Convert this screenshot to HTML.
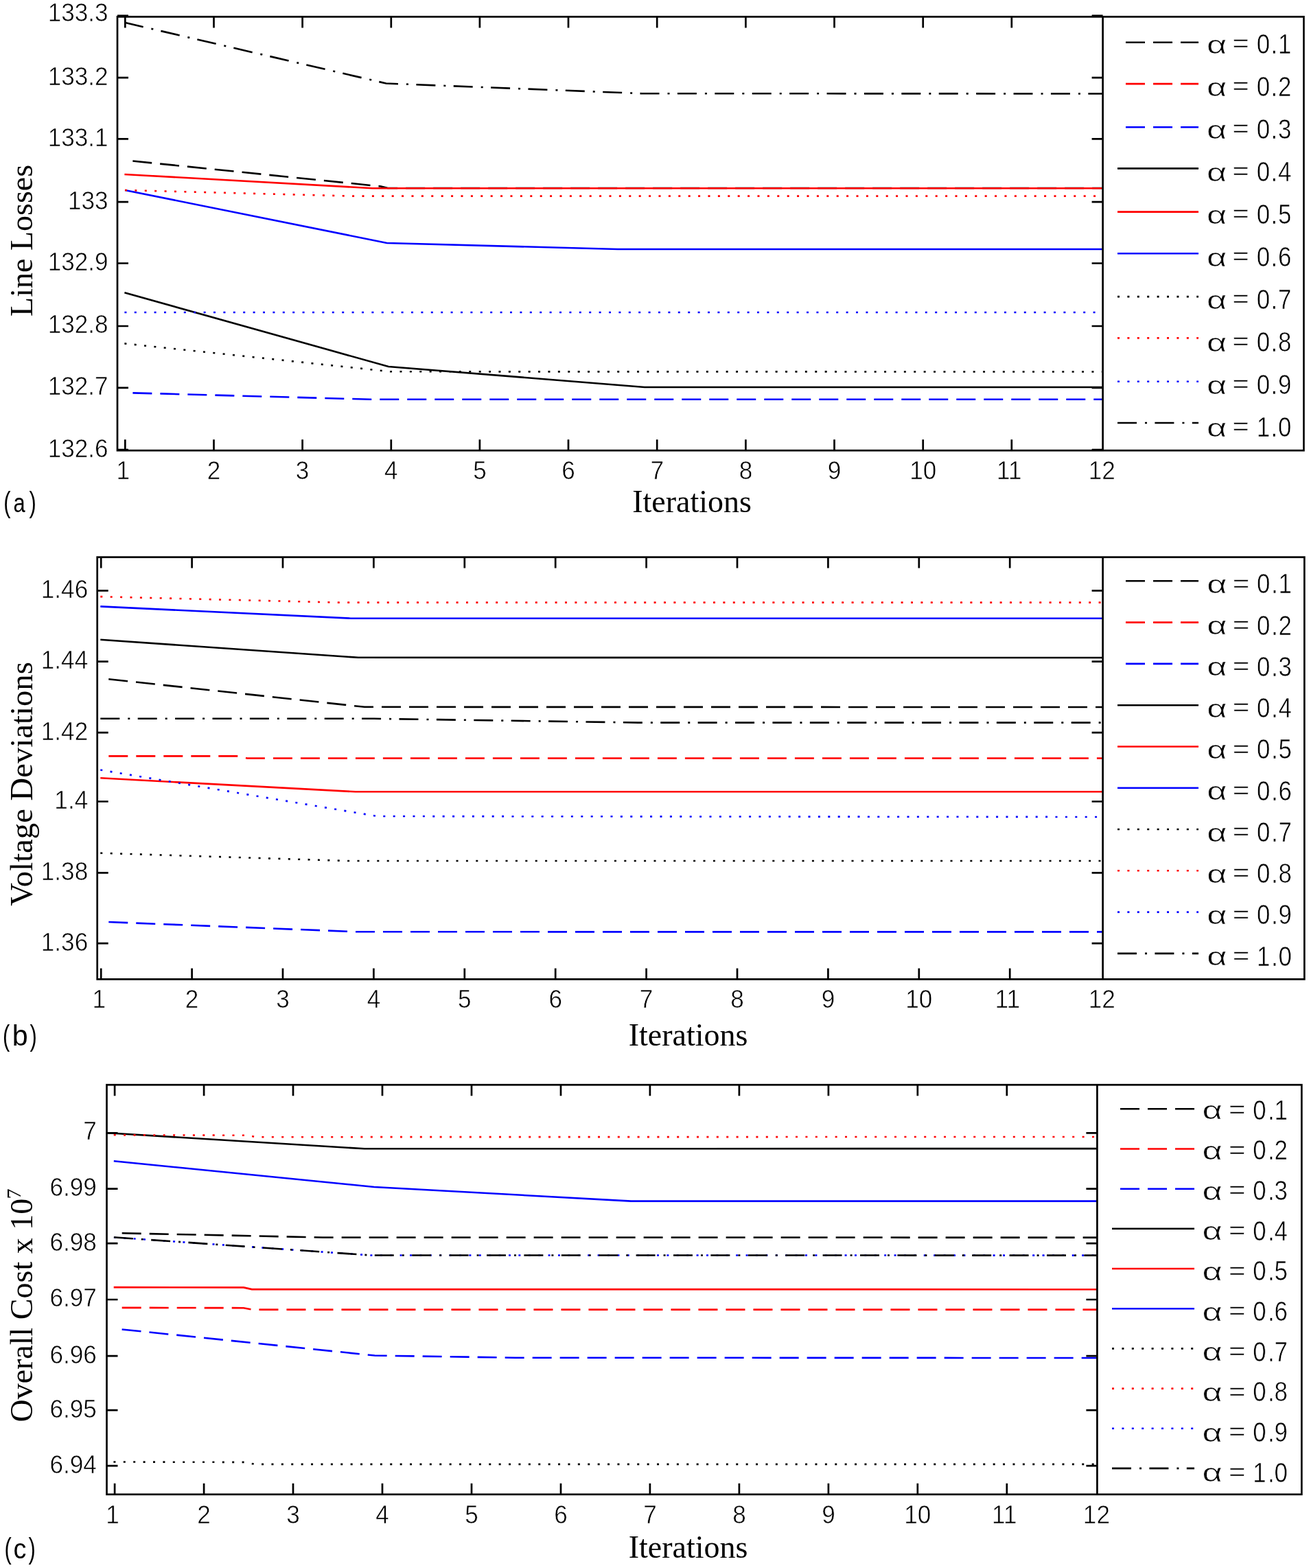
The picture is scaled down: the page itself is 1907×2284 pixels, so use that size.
<!DOCTYPE html>
<html><head><meta charset="utf-8"><title>Convergence plots</title>
<style>html,body{margin:0;padding:0;background:#fff;overflow:hidden;} svg{display:block;}</style>
</head><body>
<svg width="1907" height="2284" viewBox="0 0 1907 2284">
<rect width="1907" height="2284" fill="#fff"/>
<clipPath id="ca"><rect x="171" y="24.4" width="1435.6" height="631.8000000000001"/></clipPath>
<g clip-path="url(#ca)">
<polyline points="181.4,233.3 555.0,271.5 565.0,274.0 1606.0,274.0" fill="none" stroke="#000" stroke-width="2.6" stroke-dasharray="28 12" stroke-dashoffset="28" />
<polyline points="181.4,572.0 540.0,581.8 1606.0,581.8" fill="none" stroke="#00f" stroke-width="2.6" stroke-dasharray="28 12" stroke-dashoffset="28" />
<polyline points="181.4,426.2 566.0,534.0 939.0,564.0 1606.0,564.0" fill="none" stroke="#000" stroke-width="2.6" />
<polyline points="181.4,254.0 542.6,274.2 1606.0,274.2" fill="none" stroke="#f00" stroke-width="2.6" />
<polyline points="182.0,277.0 563.6,354.0 900.0,363.0 1606.0,363.0" fill="none" stroke="#00f" stroke-width="2.6" />
<polyline points="181.4,500.4 569.0,541.3 1606.0,541.5" fill="none" stroke="#000" stroke-width="2.6" stroke-dasharray="3 11.4" />
<polyline points="182.0,277.0 511.0,285.6 1606.0,285.6" fill="none" stroke="#f00" stroke-width="2.6" stroke-dasharray="3 11.4" />
<polyline points="181.4,455.0 1606.0,455.0" fill="none" stroke="#00f" stroke-width="2.6" stroke-dasharray="3 11.4" />
<polyline points="181.4,32.8 562.5,121.5 935.0,136.2 1606.0,136.5" fill="none" stroke="#000" stroke-width="2.6" stroke-dasharray="28 12 3 11.4" />
</g>
<rect x="171" y="24.4" width="1728.4" height="631.8000000000001" fill="none" stroke="#000" stroke-width="2.7"/>
<line x1="1606.6" y1="24.4" x2="1606.6" y2="656.2" stroke="#000" stroke-width="2.7"/>
<path d="M182.3,656.2v-16M182.3,24.4v16M311.5,656.2v-16M311.5,24.4v16M440.6,656.2v-16M440.6,24.4v16M569.8,656.2v-16M569.8,24.4v16M698.9,656.2v-16M698.9,24.4v16M828.0,656.2v-16M828.0,24.4v16M957.2,656.2v-16M957.2,24.4v16M1086.4,656.2v-16M1086.4,24.4v16M1215.5,656.2v-16M1215.5,24.4v16M1344.7,656.2v-16M1344.7,24.4v16M1473.8,656.2v-16M1473.8,24.4v16M171,22.9h16M1606.6,22.9h-16M171,113.2h16M1606.6,113.2h-16M171,202.4h16M1606.6,202.4h-16M171,294.1h16M1606.6,294.1h-16M171,383.5h16M1606.6,383.5h-16M171,475.0h16M1606.6,475.0h-16M171,564.8h16M1606.6,564.8h-16M171,655.1h16M1606.6,655.1h-16" stroke="#000" stroke-width="2.7" fill="none"/>
<g font-family="Liberation Sans, Arial, sans-serif" font-size="37" fill="#000" stroke="#fff" stroke-width="0.6">
<text transform="translate(179.3,697.6) scale(0.95,1)" text-anchor="middle">1</text>
<text transform="translate(311.5,697.6) scale(0.95,1)" text-anchor="middle">2</text>
<text transform="translate(440.6,697.6) scale(0.95,1)" text-anchor="middle">3</text>
<text transform="translate(569.8,697.6) scale(0.95,1)" text-anchor="middle">4</text>
<text transform="translate(698.9,697.6) scale(0.95,1)" text-anchor="middle">5</text>
<text transform="translate(828.0,697.6) scale(0.95,1)" text-anchor="middle">6</text>
<text transform="translate(957.2,697.6) scale(0.95,1)" text-anchor="middle">7</text>
<text transform="translate(1086.4,697.6) scale(0.95,1)" text-anchor="middle">8</text>
<text transform="translate(1215.5,697.6) scale(0.95,1)" text-anchor="middle">9</text>
<text transform="translate(1344.7,697.6) scale(0.95,1)" text-anchor="middle">10</text>
<text transform="translate(1470.3,697.6) scale(0.95,1)" text-anchor="middle">11</text>
<text transform="translate(1605.3,697.6) scale(0.95,1)" text-anchor="middle">12</text>
<text transform="translate(157.6,31.2) scale(0.95,1)" text-anchor="end">133.3</text>
<text transform="translate(157.6,123.6) scale(0.95,1)" text-anchor="end">133.2</text>
<text transform="translate(157.6,212.8) scale(0.95,1)" text-anchor="end">133.1</text>
<text transform="translate(157.6,304.5) scale(0.95,1)" text-anchor="end">133</text>
<text transform="translate(157.6,393.9) scale(0.95,1)" text-anchor="end">132.9</text>
<text transform="translate(157.6,485.4) scale(0.95,1)" text-anchor="end">132.8</text>
<text transform="translate(157.6,575.2) scale(0.95,1)" text-anchor="end">132.7</text>
<text transform="translate(157.6,665.5) scale(0.95,1)" text-anchor="end">132.6</text>
</g>
<g font-family="Liberation Sans, Arial, sans-serif" fill="#000" stroke="#fff" stroke-width="0.6">
<text font-size="37" transform="translate(1757.9,77.5) scale(1.37,1)">α</text>
<text font-size="36" transform="translate(1795.2,75.2) scale(1.17,1)">=</text>
<text font-size="40.4" transform="translate(1830.8,77.9) scale(0.86,1)">0</text>
<text font-size="40.4" transform="translate(1851.6,77.9) scale(0.86,1)">.</text>
<text font-size="40.4" transform="translate(1862.0,77.9) scale(0.86,1)">1</text>
<text font-size="37" transform="translate(1757.9,139.5) scale(1.37,1)">α</text>
<text font-size="36" transform="translate(1795.2,137.2) scale(1.17,1)">=</text>
<text font-size="40.4" transform="translate(1830.8,139.9) scale(0.86,1)">0</text>
<text font-size="40.4" transform="translate(1851.6,139.9) scale(0.86,1)">.</text>
<text font-size="40.4" transform="translate(1862.0,139.9) scale(0.86,1)">2</text>
<text font-size="37" transform="translate(1757.9,201.5) scale(1.37,1)">α</text>
<text font-size="36" transform="translate(1795.2,199.2) scale(1.17,1)">=</text>
<text font-size="40.4" transform="translate(1830.8,201.9) scale(0.86,1)">0</text>
<text font-size="40.4" transform="translate(1851.6,201.9) scale(0.86,1)">.</text>
<text font-size="40.4" transform="translate(1862.0,201.9) scale(0.86,1)">3</text>
<text font-size="37" transform="translate(1757.9,263.6) scale(1.37,1)">α</text>
<text font-size="36" transform="translate(1795.2,261.3) scale(1.17,1)">=</text>
<text font-size="40.4" transform="translate(1830.8,264.0) scale(0.86,1)">0</text>
<text font-size="40.4" transform="translate(1851.6,264.0) scale(0.86,1)">.</text>
<text font-size="40.4" transform="translate(1862.0,264.0) scale(0.86,1)">4</text>
<text font-size="37" transform="translate(1757.9,325.6) scale(1.37,1)">α</text>
<text font-size="36" transform="translate(1795.2,323.3) scale(1.17,1)">=</text>
<text font-size="40.4" transform="translate(1830.8,326.0) scale(0.86,1)">0</text>
<text font-size="40.4" transform="translate(1851.6,326.0) scale(0.86,1)">.</text>
<text font-size="40.4" transform="translate(1862.0,326.0) scale(0.86,1)">5</text>
<text font-size="37" transform="translate(1757.9,387.6) scale(1.37,1)">α</text>
<text font-size="36" transform="translate(1795.2,385.3) scale(1.17,1)">=</text>
<text font-size="40.4" transform="translate(1830.8,388.0) scale(0.86,1)">0</text>
<text font-size="40.4" transform="translate(1851.6,388.0) scale(0.86,1)">.</text>
<text font-size="40.4" transform="translate(1862.0,388.0) scale(0.86,1)">6</text>
<text font-size="37" transform="translate(1757.9,449.6) scale(1.37,1)">α</text>
<text font-size="36" transform="translate(1795.2,447.3) scale(1.17,1)">=</text>
<text font-size="40.4" transform="translate(1830.8,450.0) scale(0.86,1)">0</text>
<text font-size="40.4" transform="translate(1851.6,450.0) scale(0.86,1)">.</text>
<text font-size="40.4" transform="translate(1862.0,450.0) scale(0.86,1)">7</text>
<text font-size="37" transform="translate(1757.9,511.6) scale(1.37,1)">α</text>
<text font-size="36" transform="translate(1795.2,509.3) scale(1.17,1)">=</text>
<text font-size="40.4" transform="translate(1830.8,512.0) scale(0.86,1)">0</text>
<text font-size="40.4" transform="translate(1851.6,512.0) scale(0.86,1)">.</text>
<text font-size="40.4" transform="translate(1862.0,512.0) scale(0.86,1)">8</text>
<text font-size="37" transform="translate(1757.9,573.7) scale(1.37,1)">α</text>
<text font-size="36" transform="translate(1795.2,571.4) scale(1.17,1)">=</text>
<text font-size="40.4" transform="translate(1830.8,574.1) scale(0.86,1)">0</text>
<text font-size="40.4" transform="translate(1851.6,574.1) scale(0.86,1)">.</text>
<text font-size="40.4" transform="translate(1862.0,574.1) scale(0.86,1)">9</text>
<text font-size="37" transform="translate(1757.9,635.7) scale(1.37,1)">α</text>
<text font-size="36" transform="translate(1795.2,633.4) scale(1.17,1)">=</text>
<text font-size="40.4" transform="translate(1830.8,636.1) scale(0.86,1)">1</text>
<text font-size="40.4" transform="translate(1851.6,636.1) scale(0.86,1)">.</text>
<text font-size="40.4" transform="translate(1862.0,636.1) scale(0.86,1)">0</text>
</g>
<polyline points="1628.0,61.7 1746.0,61.7" fill="none" stroke="#000" stroke-width="2.6" stroke-dasharray="28 12" stroke-dashoffset="28" />
<polyline points="1628.0,122.1 1746.0,122.1" fill="none" stroke="#f00" stroke-width="2.6" stroke-dasharray="28 12" stroke-dashoffset="28" />
<polyline points="1628.0,185.2 1746.0,185.2" fill="none" stroke="#00f" stroke-width="2.6" stroke-dasharray="28 12" stroke-dashoffset="28" />
<polyline points="1628.0,245.4 1746.0,245.4" fill="none" stroke="#000" stroke-width="2.6" />
<polyline points="1628.0,308.6 1746.0,308.6" fill="none" stroke="#f00" stroke-width="2.6" />
<polyline points="1628.0,369.2 1746.0,369.2" fill="none" stroke="#00f" stroke-width="2.6" />
<polyline points="1628.0,432.1 1746.0,432.1" fill="none" stroke="#000" stroke-width="2.6" stroke-dasharray="3 11.4" />
<polyline points="1628.0,492.4 1746.0,492.4" fill="none" stroke="#f00" stroke-width="2.6" stroke-dasharray="3 11.4" />
<polyline points="1628.0,555.7 1746.0,555.7" fill="none" stroke="#00f" stroke-width="2.6" stroke-dasharray="3 11.4" />
<polyline points="1628.0,616.0 1746.0,616.0" fill="none" stroke="#000" stroke-width="2.6" stroke-dasharray="28 12 3 11.4" />
<text x="1008.0" y="746.3" font-family="Liberation Serif, Times New Roman, serif" font-size="46" text-anchor="middle">Iterations</text>
<text transform="translate(46.9,350.4) rotate(-90)" font-family="Liberation Serif, Times New Roman, serif" font-size="46" text-anchor="middle">Line Losses</text>
<g font-family="Liberation Sans, Arial, sans-serif" fill="#000">
<text font-size="42.8" transform="translate(5.29,746.3) scale(0.72,1)">(</text>
<text font-size="39.6" transform="translate(19.50,746.3) scale(0.78,1)">a</text>
<text font-size="42.8" transform="translate(42.52,746.3) scale(0.72,1)">)</text>
</g>
<clipPath id="cb"><rect x="141.7" y="811.6" width="1464.8999999999999" height="614.8000000000001"/></clipPath>
<g clip-path="url(#cb)">
<polyline points="146.3,987.9 531.0,1029.8 1606.0,1030.0" fill="none" stroke="#000" stroke-width="2.6" stroke-dasharray="28 12" stroke-dashoffset="28" />
<polyline points="146.3,1101.4 348.0,1101.4 360.0,1104.5 1606.0,1104.5" fill="none" stroke="#f00" stroke-width="2.6" stroke-dasharray="28 12" stroke-dashoffset="28" />
<polyline points="146.3,1342.6 521.0,1357.3 1606.0,1357.4" fill="none" stroke="#00f" stroke-width="2.6" stroke-dasharray="28 12" stroke-dashoffset="28" />
<polyline points="146.3,931.8 522.0,957.8 1606.0,958.0" fill="none" stroke="#000" stroke-width="2.6" />
<polyline points="146.3,1133.3 518.0,1153.3 1606.0,1153.3" fill="none" stroke="#f00" stroke-width="2.6" />
<polyline points="146.3,883.4 511.0,900.7 1606.0,900.8" fill="none" stroke="#00f" stroke-width="2.6" />
<polyline points="146.3,1242.6 506.5,1254.0 1606.0,1254.0" fill="none" stroke="#000" stroke-width="2.6" stroke-dasharray="3 11.4" />
<polyline points="146.3,869.1 491.0,877.6 1606.0,877.6" fill="none" stroke="#f00" stroke-width="2.6" stroke-dasharray="3 11.4" />
<polyline points="146.3,1121.5 550.0,1189.0 1606.0,1190.0" fill="none" stroke="#00f" stroke-width="2.6" stroke-dasharray="3 11.4" />
<polyline points="146.3,1046.8 545.0,1046.8 930.0,1052.6 1606.0,1052.6" fill="none" stroke="#000" stroke-width="2.6" stroke-dasharray="28 12 3 11.4" />
</g>
<rect x="141.7" y="811.6" width="1758.6" height="614.8000000000001" fill="none" stroke="#000" stroke-width="2.7"/>
<line x1="1606.6" y1="811.6" x2="1606.6" y2="1426.4" stroke="#000" stroke-width="2.7"/>
<path d="M147.2,1426.4v-16M147.2,811.6v16M279.6,1426.4v-16M279.6,811.6v16M412.0,1426.4v-16M412.0,811.6v16M544.4,1426.4v-16M544.4,811.6v16M676.8,1426.4v-16M676.8,811.6v16M809.2,1426.4v-16M809.2,811.6v16M941.6,1426.4v-16M941.6,811.6v16M1074.0,1426.4v-16M1074.0,811.6v16M1206.4,1426.4v-16M1206.4,811.6v16M1338.8,1426.4v-16M1338.8,811.6v16M1471.2,1426.4v-16M1471.2,811.6v16M141.7,860.3h16M1606.6,860.3h-16M141.7,963.7h16M1606.6,963.7h-16M141.7,1067.2h16M1606.6,1067.2h-16M141.7,1167.5h16M1606.6,1167.5h-16M141.7,1271.3h16M1606.6,1271.3h-16M141.7,1374.2h16M1606.6,1374.2h-16" stroke="#000" stroke-width="2.7" fill="none"/>
<g font-family="Liberation Sans, Arial, sans-serif" font-size="37" fill="#000" stroke="#fff" stroke-width="0.6">
<text transform="translate(144.2,1467.7) scale(0.95,1)" text-anchor="middle">1</text>
<text transform="translate(279.6,1467.7) scale(0.95,1)" text-anchor="middle">2</text>
<text transform="translate(412.0,1467.7) scale(0.95,1)" text-anchor="middle">3</text>
<text transform="translate(544.4,1467.7) scale(0.95,1)" text-anchor="middle">4</text>
<text transform="translate(676.8,1467.7) scale(0.95,1)" text-anchor="middle">5</text>
<text transform="translate(809.2,1467.7) scale(0.95,1)" text-anchor="middle">6</text>
<text transform="translate(941.6,1467.7) scale(0.95,1)" text-anchor="middle">7</text>
<text transform="translate(1074.0,1467.7) scale(0.95,1)" text-anchor="middle">8</text>
<text transform="translate(1206.4,1467.7) scale(0.95,1)" text-anchor="middle">9</text>
<text transform="translate(1338.8,1467.7) scale(0.95,1)" text-anchor="middle">10</text>
<text transform="translate(1467.7,1467.7) scale(0.95,1)" text-anchor="middle">11</text>
<text transform="translate(1605.3,1467.7) scale(0.95,1)" text-anchor="middle">12</text>
<text transform="translate(128.2,870.7) scale(0.95,1)" text-anchor="end">1.46</text>
<text transform="translate(128.2,974.1) scale(0.95,1)" text-anchor="end">1.44</text>
<text transform="translate(128.2,1077.6) scale(0.95,1)" text-anchor="end">1.42</text>
<text transform="translate(128.2,1177.9) scale(0.95,1)" text-anchor="end">1.4</text>
<text transform="translate(128.2,1281.7) scale(0.95,1)" text-anchor="end">1.38</text>
<text transform="translate(128.2,1384.6) scale(0.95,1)" text-anchor="end">1.36</text>
</g>
<g font-family="Liberation Sans, Arial, sans-serif" fill="#000" stroke="#fff" stroke-width="0.6">
<text font-size="37" transform="translate(1758.3,863.9) scale(1.37,1)">α</text>
<text font-size="36" transform="translate(1795.7,861.6) scale(1.17,1)">=</text>
<text font-size="40.4" transform="translate(1831.1,864.3) scale(0.86,1)">0</text>
<text font-size="40.4" transform="translate(1852.1,864.3) scale(0.86,1)">.</text>
<text font-size="40.4" transform="translate(1862.6,864.3) scale(0.86,1)">1</text>
<text font-size="37" transform="translate(1758.3,924.2) scale(1.37,1)">α</text>
<text font-size="36" transform="translate(1795.7,921.9) scale(1.17,1)">=</text>
<text font-size="40.4" transform="translate(1831.1,924.6) scale(0.86,1)">0</text>
<text font-size="40.4" transform="translate(1852.1,924.6) scale(0.86,1)">.</text>
<text font-size="40.4" transform="translate(1862.6,924.6) scale(0.86,1)">2</text>
<text font-size="37" transform="translate(1758.3,984.4) scale(1.37,1)">α</text>
<text font-size="36" transform="translate(1795.7,982.1) scale(1.17,1)">=</text>
<text font-size="40.4" transform="translate(1831.1,984.8) scale(0.86,1)">0</text>
<text font-size="40.4" transform="translate(1852.1,984.8) scale(0.86,1)">.</text>
<text font-size="40.4" transform="translate(1862.6,984.8) scale(0.86,1)">3</text>
<text font-size="37" transform="translate(1758.3,1044.7) scale(1.37,1)">α</text>
<text font-size="36" transform="translate(1795.7,1042.4) scale(1.17,1)">=</text>
<text font-size="40.4" transform="translate(1831.1,1045.1) scale(0.86,1)">0</text>
<text font-size="40.4" transform="translate(1852.1,1045.1) scale(0.86,1)">.</text>
<text font-size="40.4" transform="translate(1862.6,1045.1) scale(0.86,1)">4</text>
<text font-size="37" transform="translate(1758.3,1104.9) scale(1.37,1)">α</text>
<text font-size="36" transform="translate(1795.7,1102.6) scale(1.17,1)">=</text>
<text font-size="40.4" transform="translate(1831.1,1105.3) scale(0.86,1)">0</text>
<text font-size="40.4" transform="translate(1852.1,1105.3) scale(0.86,1)">.</text>
<text font-size="40.4" transform="translate(1862.6,1105.3) scale(0.86,1)">5</text>
<text font-size="37" transform="translate(1758.3,1165.2) scale(1.37,1)">α</text>
<text font-size="36" transform="translate(1795.7,1162.9) scale(1.17,1)">=</text>
<text font-size="40.4" transform="translate(1831.1,1165.6) scale(0.86,1)">0</text>
<text font-size="40.4" transform="translate(1852.1,1165.6) scale(0.86,1)">.</text>
<text font-size="40.4" transform="translate(1862.6,1165.6) scale(0.86,1)">6</text>
<text font-size="37" transform="translate(1758.3,1225.5) scale(1.37,1)">α</text>
<text font-size="36" transform="translate(1795.7,1223.2) scale(1.17,1)">=</text>
<text font-size="40.4" transform="translate(1831.1,1225.9) scale(0.86,1)">0</text>
<text font-size="40.4" transform="translate(1852.1,1225.9) scale(0.86,1)">.</text>
<text font-size="40.4" transform="translate(1862.6,1225.9) scale(0.86,1)">7</text>
<text font-size="37" transform="translate(1758.3,1285.7) scale(1.37,1)">α</text>
<text font-size="36" transform="translate(1795.7,1283.4) scale(1.17,1)">=</text>
<text font-size="40.4" transform="translate(1831.1,1286.1) scale(0.86,1)">0</text>
<text font-size="40.4" transform="translate(1852.1,1286.1) scale(0.86,1)">.</text>
<text font-size="40.4" transform="translate(1862.6,1286.1) scale(0.86,1)">8</text>
<text font-size="37" transform="translate(1758.3,1346.0) scale(1.37,1)">α</text>
<text font-size="36" transform="translate(1795.7,1343.7) scale(1.17,1)">=</text>
<text font-size="40.4" transform="translate(1831.1,1346.4) scale(0.86,1)">0</text>
<text font-size="40.4" transform="translate(1852.1,1346.4) scale(0.86,1)">.</text>
<text font-size="40.4" transform="translate(1862.6,1346.4) scale(0.86,1)">9</text>
<text font-size="37" transform="translate(1758.3,1406.2) scale(1.37,1)">α</text>
<text font-size="36" transform="translate(1795.7,1403.9) scale(1.17,1)">=</text>
<text font-size="40.4" transform="translate(1831.1,1406.6) scale(0.86,1)">1</text>
<text font-size="40.4" transform="translate(1852.1,1406.6) scale(0.86,1)">.</text>
<text font-size="40.4" transform="translate(1862.6,1406.6) scale(0.86,1)">0</text>
</g>
<polyline points="1628.0,846.3 1746.0,846.3" fill="none" stroke="#000" stroke-width="2.6" stroke-dasharray="28 12" stroke-dashoffset="28" />
<polyline points="1628.0,906.6 1746.0,906.6" fill="none" stroke="#f00" stroke-width="2.6" stroke-dasharray="28 12" stroke-dashoffset="28" />
<polyline points="1628.0,966.9 1746.0,966.9" fill="none" stroke="#00f" stroke-width="2.6" stroke-dasharray="28 12" stroke-dashoffset="28" />
<polyline points="1628.0,1027.2 1746.0,1027.2" fill="none" stroke="#000" stroke-width="2.6" />
<polyline points="1628.0,1087.5 1746.0,1087.5" fill="none" stroke="#f00" stroke-width="2.6" />
<polyline points="1628.0,1147.8 1746.0,1147.8" fill="none" stroke="#00f" stroke-width="2.6" />
<polyline points="1628.0,1208.0 1746.0,1208.0" fill="none" stroke="#000" stroke-width="2.6" stroke-dasharray="3 11.4" />
<polyline points="1628.0,1268.3 1746.0,1268.3" fill="none" stroke="#f00" stroke-width="2.6" stroke-dasharray="3 11.4" />
<polyline points="1628.0,1328.6 1746.0,1328.6" fill="none" stroke="#00f" stroke-width="2.6" stroke-dasharray="3 11.4" />
<polyline points="1628.0,1388.9 1746.0,1388.9" fill="none" stroke="#000" stroke-width="2.6" stroke-dasharray="28 12 3 11.4" />
<text x="1002.6" y="1522.9" font-family="Liberation Serif, Times New Roman, serif" font-size="46" text-anchor="middle">Iterations</text>
<text transform="translate(46.9,1142.0) rotate(-90)" font-family="Liberation Serif, Times New Roman, serif" font-size="46.7" text-anchor="middle">Voltage Deviations</text>
<g font-family="Liberation Sans, Arial, sans-serif" fill="#000">
<text font-size="42.8" transform="translate(4.09,1523.4) scale(0.72,1)">(</text>
<text font-size="42.9" transform="translate(17.72,1523.4) scale(0.96,1)">b</text>
<text font-size="42.8" transform="translate(43.52,1523.4) scale(0.72,1)">)</text>
</g>
<clipPath id="cc"><rect x="155.5" y="1580.2" width="1442.9" height="596.6000000000001"/></clipPath>
<g clip-path="url(#cc)">
<polyline points="165.7,1796.0 470.0,1802.5 1598.0,1802.6" fill="none" stroke="#000" stroke-width="2.6" stroke-dasharray="28 12" stroke-dashoffset="28" />
<polyline points="165.7,1904.8 355.0,1905.2 367.0,1907.6 1598.0,1907.6" fill="none" stroke="#f00" stroke-width="2.6" stroke-dasharray="28 12" stroke-dashoffset="28" />
<polyline points="165.7,1935.2 546.0,1974.5 751.0,1977.7 1598.0,1978.0" fill="none" stroke="#00f" stroke-width="2.6" stroke-dasharray="28 12" stroke-dashoffset="28" />
<polyline points="156.8,1650.3 531.0,1673.3 1598.0,1673.1" fill="none" stroke="#000" stroke-width="2.6" />
<polyline points="165.7,1875.1 355.0,1875.4 367.0,1878.1 1598.0,1878.2" fill="none" stroke="#f00" stroke-width="2.6" />
<polyline points="165.8,1691.2 545.0,1729.0 919.5,1749.6 1598.0,1749.6" fill="none" stroke="#00f" stroke-width="2.6" />
<polyline points="165.4,2129.5 358.0,2129.9 371.0,2132.9 1598.0,2132.9" fill="none" stroke="#000" stroke-width="2.6" stroke-dasharray="3 11.4" />
<polyline points="165.7,1653.3 362.0,1653.8 372.0,1656.2 1598.0,1656.0" fill="none" stroke="#f00" stroke-width="2.6" stroke-dasharray="3 11.4" />
<polyline points="165.9,1802.3 540.0,1828.5 1598.0,1828.6" fill="none" stroke="#00f" stroke-width="2.6" stroke-dasharray="3 11.4" />
<polyline points="165.9,1802.3 540.0,1828.5 1598.0,1828.6" fill="none" stroke="#000" stroke-width="2.6" stroke-dasharray="28 12 3 11.4" />
</g>
<rect x="155.5" y="1580.2" width="1740.8" height="596.6000000000001" fill="none" stroke="#000" stroke-width="2.7"/>
<line x1="1598.4" y1="1580.2" x2="1598.4" y2="2176.8" stroke="#000" stroke-width="2.7"/>
<path d="M167.1,2176.8v-16M167.1,1580.2v16M297.1,2176.8v-16M297.1,1580.2v16M427.0,2176.8v-16M427.0,1580.2v16M557.0,2176.8v-16M557.0,1580.2v16M687.0,2176.8v-16M687.0,1580.2v16M817.0,2176.8v-16M817.0,1580.2v16M946.9,2176.8v-16M946.9,1580.2v16M1076.9,2176.8v-16M1076.9,1580.2v16M1206.9,2176.8v-16M1206.9,1580.2v16M1336.8,2176.8v-16M1336.8,1580.2v16M1466.8,2176.8v-16M1466.8,1580.2v16M155.5,1650.4h16M1598.4,1650.4h-16M155.5,1731.7h16M1598.4,1731.7h-16M155.5,1811.2h16M1598.4,1811.2h-16M155.5,1893.0h16M1598.4,1893.0h-16M155.5,1975.2h16M1598.4,1975.2h-16M155.5,2054.2h16M1598.4,2054.2h-16M155.5,2135.2h16M1598.4,2135.2h-16" stroke="#000" stroke-width="2.7" fill="none"/>
<g font-family="Liberation Sans, Arial, sans-serif" font-size="37" fill="#000" stroke="#fff" stroke-width="0.6">
<text transform="translate(164.1,2219.3) scale(0.95,1)" text-anchor="middle">1</text>
<text transform="translate(297.1,2219.3) scale(0.95,1)" text-anchor="middle">2</text>
<text transform="translate(427.0,2219.3) scale(0.95,1)" text-anchor="middle">3</text>
<text transform="translate(557.0,2219.3) scale(0.95,1)" text-anchor="middle">4</text>
<text transform="translate(687.0,2219.3) scale(0.95,1)" text-anchor="middle">5</text>
<text transform="translate(817.0,2219.3) scale(0.95,1)" text-anchor="middle">6</text>
<text transform="translate(946.9,2219.3) scale(0.95,1)" text-anchor="middle">7</text>
<text transform="translate(1076.9,2219.3) scale(0.95,1)" text-anchor="middle">8</text>
<text transform="translate(1206.9,2219.3) scale(0.95,1)" text-anchor="middle">9</text>
<text transform="translate(1336.8,2219.3) scale(0.95,1)" text-anchor="middle">10</text>
<text transform="translate(1463.3,2219.3) scale(0.95,1)" text-anchor="middle">11</text>
<text transform="translate(1597.4,2219.3) scale(0.95,1)" text-anchor="middle">12</text>
<text transform="translate(140.8,1659.7) scale(0.95,1)" text-anchor="end">7</text>
<text transform="translate(140.8,1742.1) scale(0.95,1)" text-anchor="end">6.99</text>
<text transform="translate(140.8,1821.6) scale(0.95,1)" text-anchor="end">6.98</text>
<text transform="translate(140.8,1903.4) scale(0.95,1)" text-anchor="end">6.97</text>
<text transform="translate(140.8,1985.6) scale(0.95,1)" text-anchor="end">6.96</text>
<text transform="translate(140.8,2064.6) scale(0.95,1)" text-anchor="end">6.95</text>
<text transform="translate(140.8,2145.6) scale(0.95,1)" text-anchor="end">6.94</text>
</g>
<g font-family="Liberation Sans, Arial, sans-serif" fill="#000" stroke="#fff" stroke-width="0.6">
<text font-size="37" transform="translate(1751.6,1630.1) scale(1.37,1)">α</text>
<text font-size="36" transform="translate(1789.9,1627.8) scale(1.17,1)">=</text>
<text font-size="40.4" transform="translate(1825.3,1630.5) scale(0.86,1)">0</text>
<text font-size="40.4" transform="translate(1847.0,1630.5) scale(0.86,1)">.</text>
<text font-size="40.4" transform="translate(1856.4,1630.5) scale(0.86,1)">1</text>
<text font-size="37" transform="translate(1751.6,1688.8) scale(1.37,1)">α</text>
<text font-size="36" transform="translate(1789.9,1686.5) scale(1.17,1)">=</text>
<text font-size="40.4" transform="translate(1825.3,1689.2) scale(0.86,1)">0</text>
<text font-size="40.4" transform="translate(1847.0,1689.2) scale(0.86,1)">.</text>
<text font-size="40.4" transform="translate(1856.4,1689.2) scale(0.86,1)">2</text>
<text font-size="37" transform="translate(1751.6,1747.5) scale(1.37,1)">α</text>
<text font-size="36" transform="translate(1789.9,1745.2) scale(1.17,1)">=</text>
<text font-size="40.4" transform="translate(1825.3,1747.9) scale(0.86,1)">0</text>
<text font-size="40.4" transform="translate(1847.0,1747.9) scale(0.86,1)">.</text>
<text font-size="40.4" transform="translate(1856.4,1747.9) scale(0.86,1)">3</text>
<text font-size="37" transform="translate(1751.6,1806.2) scale(1.37,1)">α</text>
<text font-size="36" transform="translate(1789.9,1803.9) scale(1.17,1)">=</text>
<text font-size="40.4" transform="translate(1825.3,1806.6) scale(0.86,1)">0</text>
<text font-size="40.4" transform="translate(1847.0,1806.6) scale(0.86,1)">.</text>
<text font-size="40.4" transform="translate(1856.4,1806.6) scale(0.86,1)">4</text>
<text font-size="37" transform="translate(1751.6,1864.9) scale(1.37,1)">α</text>
<text font-size="36" transform="translate(1789.9,1862.6) scale(1.17,1)">=</text>
<text font-size="40.4" transform="translate(1825.3,1865.3) scale(0.86,1)">0</text>
<text font-size="40.4" transform="translate(1847.0,1865.3) scale(0.86,1)">.</text>
<text font-size="40.4" transform="translate(1856.4,1865.3) scale(0.86,1)">5</text>
<text font-size="37" transform="translate(1751.6,1923.6) scale(1.37,1)">α</text>
<text font-size="36" transform="translate(1789.9,1921.3) scale(1.17,1)">=</text>
<text font-size="40.4" transform="translate(1825.3,1924.0) scale(0.86,1)">0</text>
<text font-size="40.4" transform="translate(1847.0,1924.0) scale(0.86,1)">.</text>
<text font-size="40.4" transform="translate(1856.4,1924.0) scale(0.86,1)">6</text>
<text font-size="37" transform="translate(1751.6,1982.3) scale(1.37,1)">α</text>
<text font-size="36" transform="translate(1789.9,1980.0) scale(1.17,1)">=</text>
<text font-size="40.4" transform="translate(1825.3,1982.7) scale(0.86,1)">0</text>
<text font-size="40.4" transform="translate(1847.0,1982.7) scale(0.86,1)">.</text>
<text font-size="40.4" transform="translate(1856.4,1982.7) scale(0.86,1)">7</text>
<text font-size="37" transform="translate(1751.6,2041.0) scale(1.37,1)">α</text>
<text font-size="36" transform="translate(1789.9,2038.7) scale(1.17,1)">=</text>
<text font-size="40.4" transform="translate(1825.3,2041.4) scale(0.86,1)">0</text>
<text font-size="40.4" transform="translate(1847.0,2041.4) scale(0.86,1)">.</text>
<text font-size="40.4" transform="translate(1856.4,2041.4) scale(0.86,1)">8</text>
<text font-size="37" transform="translate(1751.6,2099.7) scale(1.37,1)">α</text>
<text font-size="36" transform="translate(1789.9,2097.4) scale(1.17,1)">=</text>
<text font-size="40.4" transform="translate(1825.3,2100.1) scale(0.86,1)">0</text>
<text font-size="40.4" transform="translate(1847.0,2100.1) scale(0.86,1)">.</text>
<text font-size="40.4" transform="translate(1856.4,2100.1) scale(0.86,1)">9</text>
<text font-size="37" transform="translate(1751.6,2158.4) scale(1.37,1)">α</text>
<text font-size="36" transform="translate(1789.9,2156.1) scale(1.17,1)">=</text>
<text font-size="40.4" transform="translate(1825.3,2158.8) scale(0.86,1)">1</text>
<text font-size="40.4" transform="translate(1847.0,2158.8) scale(0.86,1)">.</text>
<text font-size="40.4" transform="translate(1856.4,2158.8) scale(0.86,1)">0</text>
</g>
<polyline points="1620.0,1615.3 1740.0,1615.3" fill="none" stroke="#000" stroke-width="2.6" stroke-dasharray="28 12" stroke-dashoffset="28" />
<polyline points="1620.0,1673.5 1740.0,1673.5" fill="none" stroke="#f00" stroke-width="2.6" stroke-dasharray="28 12" stroke-dashoffset="28" />
<polyline points="1620.0,1731.7 1740.0,1731.7" fill="none" stroke="#00f" stroke-width="2.6" stroke-dasharray="28 12" stroke-dashoffset="28" />
<polyline points="1620.0,1789.8 1740.0,1789.8" fill="none" stroke="#000" stroke-width="2.6" />
<polyline points="1620.0,1848.0 1740.0,1848.0" fill="none" stroke="#f00" stroke-width="2.6" />
<polyline points="1620.0,1906.2 1740.0,1906.2" fill="none" stroke="#00f" stroke-width="2.6" />
<polyline points="1620.0,1964.4 1740.0,1964.4" fill="none" stroke="#000" stroke-width="2.6" stroke-dasharray="3 11.4" />
<polyline points="1620.0,2022.6 1740.0,2022.6" fill="none" stroke="#f00" stroke-width="2.6" stroke-dasharray="3 11.4" />
<polyline points="1620.0,2080.7 1740.0,2080.7" fill="none" stroke="#00f" stroke-width="2.6" stroke-dasharray="3 11.4" />
<polyline points="1620.0,2138.9 1740.0,2138.9" fill="none" stroke="#000" stroke-width="2.6" stroke-dasharray="28 12 3 11.4" />
<text x="1002.6" y="2269.1" font-family="Liberation Serif, Times New Roman, serif" font-size="46" text-anchor="middle">Iterations</text>
<text transform="translate(46.8,1908.7) rotate(-90)" font-family="Liberation Serif, Times New Roman, serif" font-size="46" text-anchor="middle">Overall Cost x 10</text>
<g font-family="Liberation Sans, Arial, sans-serif" fill="#000">
<text font-size="42.8" transform="translate(6.49,2269.6) scale(0.72,1)">(</text>
<text font-size="41.4" transform="translate(19.62,2269.6) scale(0.91,1)">c</text>
<text font-size="42.8" transform="translate(41.52,2269.6) scale(0.72,1)">)</text>
</g>
<text transform="translate(30.3,1746.5) rotate(-90)" font-family="Liberation Serif, Times New Roman, serif" font-size="30">7</text>
</svg>
</body></html>
